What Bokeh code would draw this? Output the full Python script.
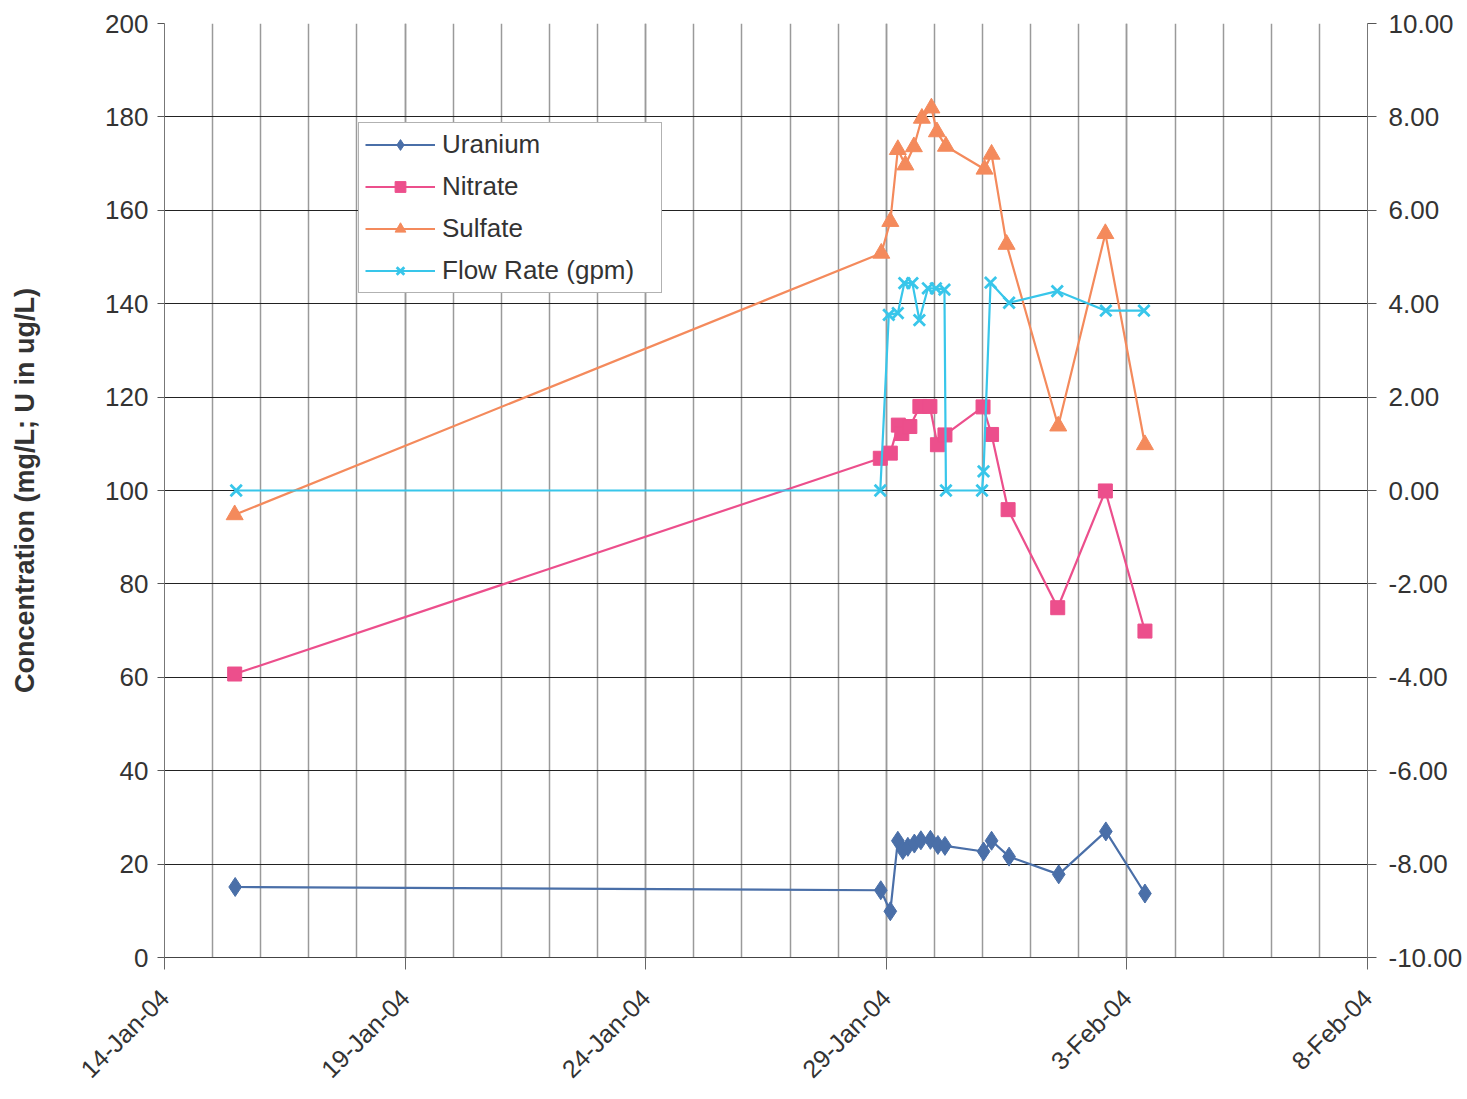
import pandas as pd
from math import pi
from bokeh.plotting import figure
from bokeh.models import (Range1d, LinearAxis, FixedTicker, NumeralTickFormatter,
                          Legend, LegendItem)
from bokeh.embed import file_html
from bokeh.resources import INLINE

# ---------------- data ----------------
tick_dates = ["2004-01-14", "2004-01-19", "2004-01-24", "2004-01-29", "2004-02-03", "2004-02-08"]
tick_labels = ["14-Jan-04", "19-Jan-04", "24-Jan-04", "29-Jan-04", "3-Feb-04", "8-Feb-04"]

left_ticks = [0, 20, 40, 60, 80, 100, 120, 140, 160, 180, 200]
right_ticks = [-10, -8, -6, -4, -2, 0, 2, 4, 6, 8, 10]

uranium_dates = ["2004-01-15 11:15", "2004-01-28 21:15", "2004-01-29 02:00", "2004-01-29 05:45",
                 "2004-01-29 08:15", "2004-01-29 10:45", "2004-01-29 14:00", "2004-01-29 17:15",
                 "2004-01-29 22:00", "2004-01-30 01:45", "2004-01-30 05:15", "2004-01-31 00:30",
                 "2004-01-31 04:30", "2004-01-31 13:15", "2004-02-01 14:00", "2004-02-02 13:30",
                 "2004-02-03 09:00"]
uranium = [15.1, 14.4, 9.9, 25.0, 23.0, 23.7, 24.4, 25.1, 25.2, 24.1, 23.9, 22.7, 25.0, 21.6,
           17.8, 27.0, 13.7]

nitrate_dates = ["2004-01-15 11:00", "2004-01-28 21:00", "2004-01-29 02:00", "2004-01-29 06:00",
                 "2004-01-29 07:45", "2004-01-29 11:45", "2004-01-29 16:45", "2004-01-29 21:45",
                 "2004-01-30 01:30", "2004-01-30 05:15", "2004-01-31 00:15", "2004-01-31 04:30",
                 "2004-01-31 12:45", "2004-02-01 13:30", "2004-02-02 13:15", "2004-02-03 09:00"]
nitrate = [60.7, 106.9, 108.0, 114.0, 112.2, 113.7, 118.0, 118.0, 109.8, 111.9, 117.9, 112.0,
           95.9, 74.9, 99.9, 69.9]

sulfate_dates = ["2004-01-15 11:00", "2004-01-28 21:30", "2004-01-29 02:00", "2004-01-29 05:45",
                 "2004-01-29 09:30", "2004-01-29 13:45", "2004-01-29 17:45", "2004-01-29 22:30",
                 "2004-01-30 01:15", "2004-01-30 05:45", "2004-01-31 01:00", "2004-01-31 04:30",
                 "2004-01-31 12:00", "2004-02-01 13:45", "2004-02-02 13:15", "2004-02-03 09:00"]
sulfate = [94.8, 150.8, 157.6, 173.0, 169.7, 173.6, 179.7, 181.9, 176.8, 173.7, 168.8, 172.0,
           152.7, 113.8, 155.0, 109.8]

flow_dates = ["2004-01-15 11:45", "2004-01-28 21:00", "2004-01-29 01:15", "2004-01-29 05:45",
              "2004-01-29 09:00", "2004-01-29 13:00", "2004-01-29 16:30", "2004-01-29 20:45",
              "2004-01-30 00:45", "2004-01-30 05:00", "2004-01-30 05:45", "2004-01-30 23:45",
              "2004-01-31 00:30", "2004-01-31 04:00", "2004-01-31 13:15", "2004-02-01 13:15",
              "2004-02-02 13:30", "2004-02-03 08:30"]
flow = [0.0, 0.0, 3.76, 3.80, 4.44, 4.44, 3.65, 4.33, 4.33, 4.30, 0.0, 0.0, 0.41, 4.45, 4.02,
        4.27, 3.85, 3.85]


def ms(s):
    return pd.Timestamp(s).value / 1e6


major_ms = [ms(d) for d in tick_dates]
minor_ms = [ms(d) for d in pd.date_range(tick_dates[0], tick_dates[-1], freq="D")]

FONT = "Liberation Sans"
TXT = "#333333"

p = figure(width=1465, height=1095, x_axis_type="datetime",
           output_backend="svg", toolbar_location=None,
           x_range=Range1d(major_ms[0], major_ms[-1]), y_range=Range1d(0, 200),
           min_border_left=164, min_border_right=96, min_border_top=23, min_border_bottom=138)
p.outline_line_color = None
p.background_fill_color = "white"
p.border_fill_color = "white"

# x axis
p.xaxis.ticker = FixedTicker(ticks=major_ms, minor_ticks=minor_ms)
p.xaxis.major_label_overrides = {m: lab for m, lab in zip(major_ms, tick_labels)}
p.xaxis.major_label_orientation = pi / 4
p.xaxis.major_label_text_font = FONT
p.xaxis.major_label_text_font_size = "25px"
p.xaxis.major_label_text_color = TXT
p.xaxis.major_tick_out = 12
p.xaxis.major_tick_in = 0
p.xaxis.minor_tick_line_color = None
p.xaxis.axis_line_color = "#444444"
p.xaxis.major_tick_line_color = "#666666"
p.xaxis.major_label_standoff = 24

p.xgrid.ticker = p.xaxis[0].ticker
p.xgrid.grid_line_color = "#9a9a9a"
p.xgrid.grid_line_width = 1.5
p.xgrid.minor_grid_line_color = "#9a9a9a"
p.xgrid.minor_grid_line_width = 1.5

# left y axis
p.yaxis.ticker = FixedTicker(ticks=left_ticks)
p.yaxis.major_label_text_font = FONT
p.yaxis.major_label_text_font_size = "26px"
p.yaxis.major_label_text_color = TXT
p.yaxis.major_tick_out = 7
p.yaxis.major_tick_in = 0
p.yaxis.minor_tick_line_color = None
p.yaxis.major_label_standoff = 9
p.yaxis.axis_line_color = "#777777"
p.yaxis.major_tick_line_color = "#555555"
p.yaxis.axis_label = "Concentration (mg/L; U in ug/L)"
p.yaxis.axis_label_text_font = FONT
p.yaxis.axis_label_text_font_style = "bold"
p.yaxis.axis_label_text_font_size = "27px"
p.yaxis.axis_label_text_color = TXT
p.yaxis.axis_label_standoff = 62

p.ygrid.ticker = p.yaxis[0].ticker
p.ygrid.grid_line_color = "#222222"
p.ygrid.grid_line_width = 1.2

# right y axis
p.extra_y_ranges = {"flow": Range1d(-10, 10)}
rax = LinearAxis(y_range_name="flow", ticker=FixedTicker(ticks=right_ticks),
                 formatter=NumeralTickFormatter(format="0.00"))
rax.major_label_text_font = FONT
rax.major_label_text_font_size = "26px"
rax.major_label_text_color = TXT
rax.major_tick_out = 9
rax.major_tick_in = 0
rax.minor_tick_line_color = None
rax.major_label_standoff = 12
rax.axis_line_color = "#777777"
rax.major_tick_line_color = "#555555"
p.add_layout(rax, "right")

# series
U_C = "#4a6fa8"
N_C = "#ec4f8c"
S_C = "#f48a5c"
F_C = "#38c6ea"

ux = pd.to_datetime(uranium_dates)
nx = pd.to_datetime(nitrate_dates)
sx = pd.to_datetime(sulfate_dates)
fx = pd.to_datetime(flow_dates)

ul = p.line(ux, uranium, line_color=U_C, line_width=2.2)
us = p.scatter(ux, uranium, marker="diamond", size=19, fill_color=U_C, line_color=U_C)
nl = p.line(nx, nitrate, line_color=N_C, line_width=2.2)
ns = p.scatter(nx, nitrate, marker="square", size=14, fill_color=N_C, line_color=N_C)
sl = p.line(sx, sulfate, line_color=S_C, line_width=2.2)
ss = p.scatter(sx, sulfate, marker="triangle", size=17, fill_color=S_C, line_color=S_C)
fl = p.line(fx, flow, line_color=F_C, line_width=2.2, y_range_name="flow")
fs = p.scatter(fx, flow, marker="x", size=16, line_color=F_C, line_width=2.8,
               y_range_name="flow")

legend = Legend(items=[
    LegendItem(label="Uranium", renderers=[ul, us]),
    LegendItem(label="Nitrate", renderers=[nl, ns]),
    LegendItem(label="Sulfate", renderers=[sl, ss]),
    LegendItem(label="Flow Rate (gpm)", renderers=[fl, fs]),
], location=(194, 664))
legend.label_text_font = FONT
legend.label_text_font_size = "26px"
legend.label_text_color = TXT
legend.border_line_color = "#666666"
legend.border_line_width = 1
legend.background_fill_color = "white"
legend.background_fill_alpha = 1
legend.padding = 6
legend.spacing = 11
legend.margin = 0
legend.glyph_width = 70
legend.glyph_height = 27
legend.label_height = 27
legend.label_width = 213
legend.label_standoff = 7
p.add_layout(legend)

open("out.html", "w").write(file_html(p, INLINE))
